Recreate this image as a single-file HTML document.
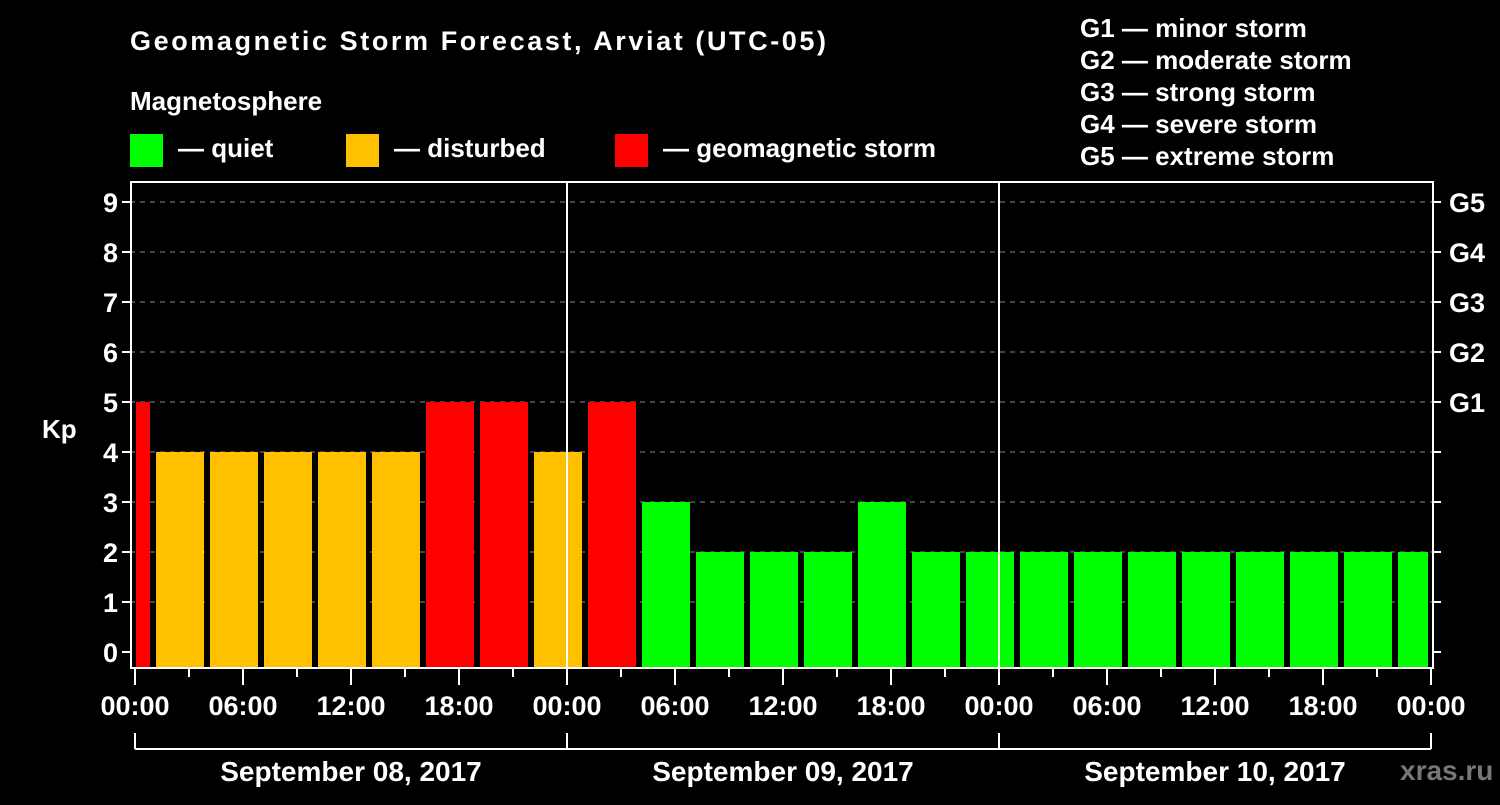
<!DOCTYPE html>
<html><head><meta charset="utf-8"><style>
body{margin:0;background:#000;width:1500px;height:800px;overflow:hidden}
svg text{font-family:"Liberation Sans",Arial,sans-serif;font-weight:bold;fill:#fff}
</style></head><body>
<svg id="c" width="1500" height="800" viewBox="0 0 1500 800">
<rect width="1500" height="800" fill="#000"/>
<text x="130" y="50" font-size="27" textLength="696" lengthAdjust="spacing">Geomagnetic Storm Forecast, Arviat (UTC-05)</text>
<text x="130" y="110" font-size="26">Magnetosphere</text>
<g><rect x="130" y="134" width="33" height="33" fill="#00ff00"/><text x="178" y="157" font-size="26">— quiet</text></g>
<g><rect x="346" y="134" width="33" height="33" fill="#ffc000"/><text x="394" y="157" font-size="26">— disturbed</text></g>
<g><rect x="615" y="134" width="33" height="33" fill="#ff0000"/><text x="663" y="157" font-size="26">— geomagnetic storm</text></g>
<g font-size="26">
<text x="1080" y="37">G1 — minor storm</text>
<text x="1080" y="69">G2 — moderate storm</text>
<text x="1080" y="101">G3 — strong storm</text>
<text x="1080" y="133">G4 — severe storm</text>
<text x="1080" y="165">G5 — extreme storm</text>
</g>
<text x="42" y="438" font-size="26">Kp</text>
<g id="grid"></g><g id="bars"></g><g id="axes"></g>
<text x="1400" y="780" font-size="28" style="fill:#777">xras.ru</text>
</svg>
<script>
const values=[5,4,4,4,4,4,5,5,4,5,3,2,2,2,3,2,2,2,2,2,2,2,2,2,2];
const slotStartHours=[-2,1,4,7,10,13,16,19,22,25,28,31,34,37,40,43,46,49,52,55,58,61,64,67,70];
const yTicks=[0,1,2,3,4,5,6,7,8,9];
const gLabels={5:"G1",6:"G2",7:"G3",8:"G4",9:"G5"};
const xLabels=["00:00","06:00","12:00","18:00","00:00","06:00","12:00","18:00","00:00","06:00","12:00","18:00","00:00"];
const days=["September 08, 2017","September 09, 2017","September 10, 2017"];
const NS="http://www.w3.org/2000/svg";
const x0=135,pxH=18,y0=652,pxK=50,topY=182,botY=668,leftX=130,rightX=1433,endX=x0+72*pxH;
const X=h=>x0+h*pxH, Y=k=>y0-k*pxK;
function mk(t,a,p){const e=document.createElementNS(NS,t);for(const k in a)e.setAttribute(k,a[k]);p.appendChild(e);return e;}
const grid=document.getElementById('grid'),bars=document.getElementById('bars'),axes=document.getElementById('axes');
yTicks.forEach(k=>{
 if(k>0){const l=mk('line',{x1:leftX,x2:rightX,y1:Y(k),y2:Y(k),stroke:'#888','stroke-dasharray':'5,5','stroke-width':1},grid);
 
 }
 mk('line',{x1:122,x2:leftX,y1:Y(k),y2:Y(k),stroke:'#fff','stroke-width':2},axes);
 mk('line',{x1:rightX,x2:rightX+8,y1:Y(k),y2:Y(k),stroke:'#fff','stroke-width':2},axes);
 const t=mk('text',{x:118,y:Y(k)+10,'font-size':27,'text-anchor':'end'},axes);t.textContent=k;
 
 
 if(gLabels[k]){const g=mk('text',{x:1449,y:Y(k)+10,'font-size':27},axes);g.textContent=gLabels[k];
 
 }
});
values.forEach((v,i)=>{
 let a=X(slotStartHours[i])+3,b=X(slotStartHours[i]+3)-3;
 a=Math.max(a,x0+1);b=Math.min(b,endX-3);
 const c=v>=5?'#ff0000':(v>=4?'#ffc000':'#00ff00');
 const r=mk('rect',{x:a,y:Y(v),width:b-a,height:botY-1-Y(v),fill:c},bars);
 
 
});
mk('rect',{x:leftX+1,y:topY,width:rightX-leftX-1,height:botY-topY,fill:'none',stroke:'#fff','stroke-width':2},axes);
[1,2].forEach(d=>mk('line',{x1:X(24*d),x2:X(24*d),y1:topY,y2:botY,stroke:'#fff','stroke-width':2},axes));
for(let h=0;h<=72;h+=3){mk('line',{x1:X(h),x2:X(h),y1:botY,y2:botY+(h%6==0?17:9),stroke:'#fff','stroke-width':2},axes);}
xLabels.forEach((s,i)=>{const t=mk('text',{x:X(i*6),y:715,'font-size':27,'text-anchor':'middle'},axes);t.textContent=s;
 
 });
mk('line',{x1:x0,x2:endX,y1:749,y2:749,stroke:'#fff','stroke-width':2},axes);
for(let d=0;d<=3;d++)mk('line',{x1:X(24*d),x2:X(24*d),y1:733,y2:749,stroke:'#fff','stroke-width':2},axes);
days.forEach((s,i)=>{const t=mk('text',{x:X(24*i+12),y:781,'font-size':28,'text-anchor':'middle'},axes);t.textContent=s;
 
 });
</script>
</body></html>
